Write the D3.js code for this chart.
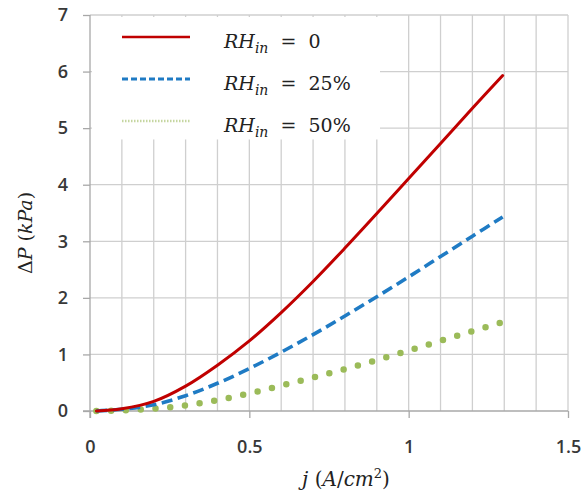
<!DOCTYPE html>
<html>
<head>
<meta charset="utf-8">
<script src="https://cdn.jsdelivr.net/npm/d3@7"></script>
<style>
  html, body { margin: 0; padding: 0; background: #fff; }
  svg { display: block; }
</style>
</head>
<body>
<div id="chart"></div>
<script>
// current density j (A/cm2) and pressure drop (kPa)
const jValues = [0.02, 0.1, 0.2, 0.3, 0.4, 0.5, 0.6, 0.7, 0.8, 0.9, 1.0, 1.1, 1.2, 1.295];
const rh0  = [0, 0.04, 0.17, 0.44, 0.81, 1.24, 1.74, 2.29, 2.88, 3.49, 4.11, 4.73, 5.35, 5.93];
const rh25 = [0, 0.03, 0.11, 0.27, 0.49, 0.75, 1.04, 1.35, 1.68, 2.02, 2.37, 2.73, 3.09, 3.43];
const rh50 = [0, 0.01, 0.04, 0.10, 0.19, 0.31, 0.45, 0.59, 0.74, 0.90, 1.07, 1.24, 1.41, 1.57];

const legendLabels = ["0", "25%", "50%"];
const xTicks = [0, 0.5, 1, 1.5];
const xTickLabels = ["0", "0.5", "1", "1.5"];
const yTicks = [0, 1, 2, 3, 4, 5, 6, 7];

const sizes = {width: 588, height: 493, margin: {top: 15, right: 20, bottom: 82, left: 90}};

const svg = d3.select("#chart").append("svg")
  .attr("width", sizes.width)
  .attr("height", sizes.height)
  .attr("viewBox", `0 0 ${sizes.width} ${sizes.height}`);

const x = d3.scaleLinear()
  .domain([0, 1.5])
  .range([sizes.margin.left, sizes.width - sizes.margin.right]);

const y = d3.scaleLinear()
  .domain([0, 7])
  .range([sizes.height - sizes.margin.bottom, sizes.margin.top]);

const gridColour = "#cfcfcf";
const axisColour = "#a8a8a8";
const labelFont = "'Open Sans', 'Liberation Sans', sans-serif";
const mathFont = "'DejaVu Serif', serif";

/* grid: vertical every 0.1, horizontal every 1 */
svg.append("g")
  .selectAll("line")
  .data(d3.range(1, 16).map((d) => d / 10))
  .enter()
  .append("line")
    .attr("x1", (d) => x(d)).attr("x2", (d) => x(d))
    .attr("y1", y(7)).attr("y2", y(0))
    .attr("stroke", gridColour)
    .attr("stroke-width", 1.3);

svg.append("g")
  .selectAll("line")
  .data(yTicks.slice(1))
  .enter()
  .append("line")
    .attr("x1", x(0)).attr("x2", x(1.5))
    .attr("y1", (d) => y(d)).attr("y2", (d) => y(d))
    .attr("stroke", gridColour)
    .attr("stroke-width", 1.3);

/* white legend panel hides the grid behind it */
svg.append("rect")
  .attr("x", x(0) + 2)
  .attr("y", y(7) + 2)
  .attr("width", x(0.91) - x(0) - 2)
  .attr("height", y(4.8) - y(7) - 2)
  .attr("fill", "#fff");

/* axes */
const yAxis = svg.append("g")
  .attr("transform", `translate(${x(0)},0)`)
  .call(d3.axisLeft(y).tickValues(yTicks).tickSize(7).tickPadding(15)
    .tickFormat(d3.format("d")));

const xAxis = svg.append("g")
  .attr("transform", `translate(0,${y(0)})`)
  .call(d3.axisBottom(x).tickValues(xTicks).tickSize(7).tickPadding(22)
    .tickFormat((d, i) => xTickLabels[i]));

[xAxis, yAxis].forEach((g) => {
  g.select(".domain").attr("stroke", axisColour).attr("stroke-width", 1.3);
  g.selectAll(".tick line").attr("stroke", axisColour).attr("stroke-width", 1.3);
  g.selectAll("text")
    .style("font-family", labelFont)
    .style("font-size", "18px")
    .style("font-weight", 600)
    .style("fill", "#383838");
});
// axis line meets the bottom tick
yAxis.select(".domain").attr("d", `M0,${y(7)}V${y(0) + 7}`);
xAxis.select(".domain").attr("d", `M${x(0) - 7},0H${x(1.5)}`);

/* curves */
const line = d3.line()
  .curve(d3.curveCatmullRom.alpha(0.5))
  .x((d) => x(d[0]))
  .y((d) => y(d[1]));

const series = [
  {values: rh50, colour: "#9bbb59", width: 6.5, dash: "0 14.8", cap: "round"},
  {values: rh25, colour: "#1f7bc4", width: 3.6, dash: "11 5.5", cap: "butt"},
  {values: rh0,  colour: "#c00000", width: 3,   dash: null,    cap: "round"}
];

series.forEach((s) => {
  svg.append("path")
    .attr("fill", "none")
    .attr("stroke", s.colour)
    .attr("stroke-width", s.width)
    .attr("stroke-linecap", s.cap)
    .attr("stroke-dasharray", s.dash)
    .attr("d", line(jValues.map((j, i) => [j, s.values[i]])));
});

/* legend */
const legendStyles = [
  {colour: "#c00000", width: 2.5, dash: null},
  {colour: "#1f7bc4", width: 2.8, dash: "6 3"},
  {colour: "#c5d6a0", width: 2.5, dash: "1.5 1.5"}
];
const legendRows = [37, 79, 121];

legendLabels.forEach((label, i) => {
  const st = legendStyles[i];
  svg.append("line")
    .attr("x1", 122).attr("x2", 190)
    .attr("y1", legendRows[i]).attr("y2", legendRows[i])
    .attr("stroke", st.colour)
    .attr("stroke-width", st.width)
    .attr("stroke-dasharray", st.dash);

  const t = svg.append("text")
    .attr("x", 224)
    .attr("y", legendRows[i] + 11)
    .style("font-family", mathFont)
    .style("font-size", "19px")
    .style("fill", "#222")
    .style("white-space", "pre");
  t.append("tspan").text("RH").style("font-style", "italic");
  t.append("tspan").text("in").style("font-style", "italic")
    .style("font-size", "14px").attr("dy", 5);
  t.append("tspan").text("  =  ").attr("dy", -5);
  t.append("tspan").text(label);
});

/* axis titles */
const xt = svg.append("text")
  .attr("x", 346)
  .attr("y", 486)
  .style("text-anchor", "middle")
  .style("font-family", mathFont)
  .style("font-size", "20px")
  .style("fill", "#222")
  .style("white-space", "pre");
xt.append("tspan").text("j").style("font-style", "italic");
xt.append("tspan").text(" (");
xt.append("tspan").text("A").style("font-style", "italic");
xt.append("tspan").text("/");
xt.append("tspan").text("cm").style("font-style", "italic");
xt.append("tspan").text("2").style("font-size", "13px").attr("dy", -8);
xt.append("tspan").text(")").attr("dy", 8);

const yt = svg.append("text")
  .attr("transform", "translate(32,233) rotate(-90)")
  .style("text-anchor", "middle")
  .style("font-family", mathFont)
  .style("font-size", "19px")
  .style("fill", "#222")
  .style("white-space", "pre");
yt.append("tspan").text("Δ");
yt.append("tspan").text("P").style("font-style", "italic");
yt.append("tspan").text(" (");
yt.append("tspan").text("kPa").style("font-style", "italic");
yt.append("tspan").text(")");
</script>
</body>
</html>
